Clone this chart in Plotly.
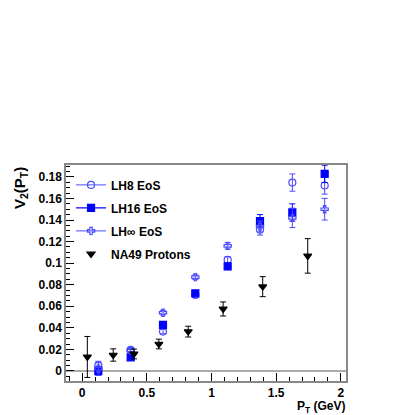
import plotly.graph_objects as go

pt_model = [0.125, 0.375, 0.625, 0.875, 1.125, 1.375, 1.625, 1.875]
lh8 = [0.005, 0.0195, 0.0365, 0.0705, 0.103, 0.131, 0.1747, 0.172]
lh8_err = [0.004, 0.002, 0.002, 0.002, 0.003, 0.005, 0.008, 0.008]
lh16 = [0.0, 0.0127, 0.0427, 0.072, 0.097, 0.139, 0.147, 0.1828]
lh16_err = [0.004, 0.002, 0.002, 0.002, 0.003, 0.006, 0.008, 0.008]
lhinf = [0.002, 0.019, 0.054, 0.087, 0.116, 0.134, 0.142, 0.150]
lhinf_err = [0.006, 0.002, 0.002, 0.002, 0.003, 0.005, 0.009, 0.01]

pt_na49 = [0.04, 0.24, 0.40, 0.593, 0.82, 1.09, 1.396, 1.744]
na49 = [0.013, 0.0148, 0.0158, 0.025, 0.0365, 0.0575, 0.0782, 0.1067]
na49_err = [0.019, 0.0057, 0.0045, 0.0045, 0.005, 0.0065, 0.0093, 0.016]

light = "#4a4aff"
blue = "#0000ff"

fig = go.Figure()

def add_series(x, y, e, name, color, symbol, size, lw):
    fig.add_trace(go.Scatter(
        x=x, y=y, mode="markers", name=name, showlegend=False,
        marker=dict(symbol=symbol, size=size, color=color, line=dict(color=color, width=1.2)),
        error_y=dict(type="data", array=e, color=color, thickness=1, width=3),
    ))
    fig.add_trace(go.Scatter(
        x=[None], y=[None], mode="lines+markers" if lw else "markers", name=name,
        legendgroup=name,
        marker=dict(symbol=symbol, size=size, color=color, line=dict(color=color, width=1.2)),
        line=dict(color=color, width=lw if lw else 1),
    ))

add_series(pt_model, lh8, lh8_err, "LH8 EoS", light, "circle-open", 7, 1)
add_series(pt_model, lh16, lh16_err, "LH16 EoS", blue, "square", 7, 1.2)
add_series(pt_model, lhinf, lhinf_err, "LH\u221e EoS", light, "cross-open", 6, 1)
add_series(pt_na49, na49, na49_err, "NA49 Protons", "black", "triangle-down", 7, 0)

tick_font = dict(family="Liberation Sans", size=12, color="black", weight="bold")

fig.update_layout(
    width=407, height=407,
    margin=dict(l=58, r=69, t=157, b=34),
    paper_bgcolor="white", plot_bgcolor="white",
    showlegend=True,
    legend=dict(x=0.018, y=0.975, xanchor="left", yanchor="top",
                font=dict(family="Liberation Sans", size=12, color="black", weight="bold"),
                bgcolor="rgba(0,0,0,0)", itemwidth=30, tracegroupgap=4),
    xaxis=dict(range=[-0.125, 2.04], tickvals=[0, 0.5, 1, 1.5, 2], ticktext=["0", "0.5", "1", "1.5", "2"],
               ticks="inside", ticklen=8, tickcolor="black", tickfont=tick_font,
               minor=dict(ticks="inside", dtick=0.1, tick0=0, ticklen=4, tickcolor="black"),
               showgrid=False, zeroline=False, showline=True, linecolor="#888888", linewidth=1.5, mirror=True),
    yaxis=dict(range=[-0.0093, 0.191], dtick=0.02, tick0=0,
               ticks="inside", ticklen=8, tickcolor="black", tickfont=tick_font,
               minor=dict(ticks="inside", dtick=0.005, tick0=0, ticklen=4, tickcolor="black"),
               showgrid=False, zeroline=True, zerolinecolor="#aaaaaa", zerolinewidth=2,
               showline=True, linecolor="#888888", linewidth=1.5, mirror=True),
    annotations=[
        dict(text="V<sub>2</sub>(P<sub>T</sub>)", xref="paper", yref="paper", x=-0.164, y=1.0,
             xanchor="center", yanchor="top", textangle=-90, showarrow=False,
             font=dict(family="Liberation Sans", size=15, color="black", weight="bold")),
        dict(text="P<sub>T</sub> (GeV)", xref="paper", yref="paper", x=1.0, y=-0.162,
             xanchor="right", yanchor="bottom", showarrow=False, borderpad=0,
             font=dict(family="Liberation Sans", size=12, color="black", weight="bold")),
    ],
)

fig.write_html("out.html")
